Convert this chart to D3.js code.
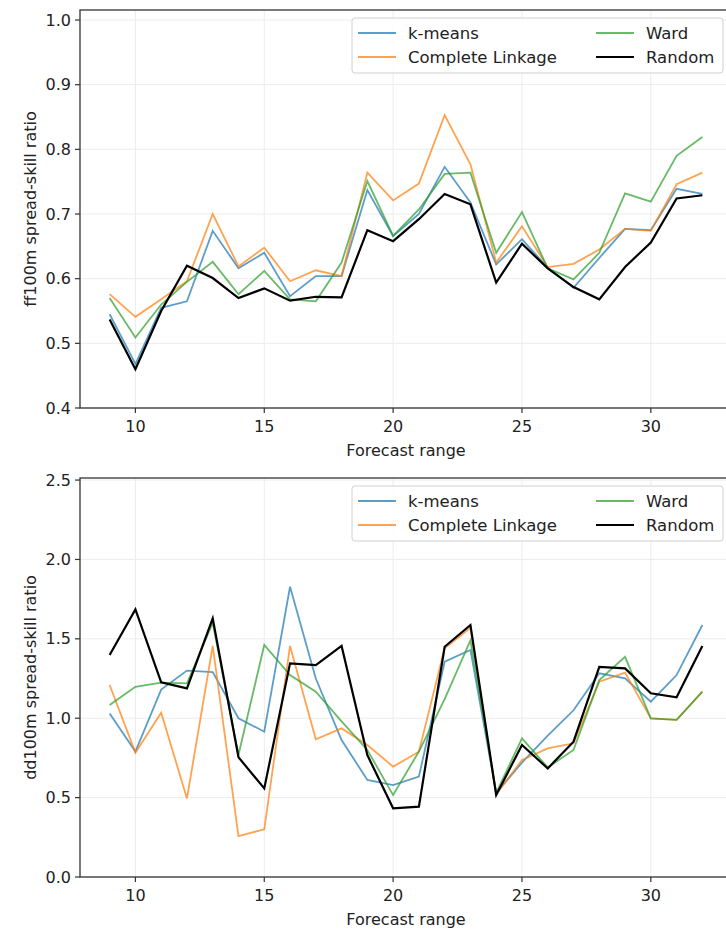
<!DOCTYPE html>
<html lang="en">
<head>
    <meta charset="UTF-8">
    <title>Spread-skill ratio by forecast range</title>
    <script src="https://d3js.org/d3.v7.min.js"></script>
    <style>
        body {
            margin: 0;
            background: #fff;
            font-family: "DejaVu Sans", sans-serif;
        }
        svg {
            display: block;
        }
        .tick-label {
            font-size: 16px;
            fill: #222;
        }
        .axis-title {
            font-size: 16px;
            fill: #222;
        }
        .legend-text {
            font-size: 16.5px;
            fill: #222;
        }
    </style>
</head>
<body>
<svg width="726" height="931"></svg>

<script>
    // forecast range (x)
    const forecastRange = d3.range(9, 33);

    const methods = ["k-means", "Complete Linkage", "Ward", "Random"];
    const colors = ["#1f77b4", "#ff7f0e", "#2ca02c", "#000000"];

    // ff100m spread-skill ratio
    const ffKmeans = [0.545, 0.468, 0.555, 0.565, 0.674, 0.616, 0.640, 0.573, 0.604, 0.604, 0.737, 0.666,
        0.700, 0.773, 0.718, 0.622, 0.661, 0.617, 0.586, 0.632, 0.677, 0.675, 0.739, 0.731];
    const ffComplete = [0.576, 0.541, 0.568, 0.596, 0.700, 0.619, 0.648, 0.596, 0.613, 0.604, 0.764, 0.721,
        0.747, 0.853, 0.777, 0.625, 0.681, 0.618, 0.623, 0.645, 0.677, 0.674, 0.746, 0.764];
    const ffWard = [0.570, 0.509, 0.560, 0.595, 0.626, 0.576, 0.612, 0.568, 0.565, 0.625, 0.751, 0.666,
        0.707, 0.762, 0.764, 0.640, 0.703, 0.616, 0.599, 0.640, 0.732, 0.719, 0.790, 0.819];
    const ffRandom = [0.537, 0.460, 0.550, 0.620, 0.601, 0.570, 0.585, 0.566, 0.572, 0.571, 0.675, 0.658,
        0.692, 0.731, 0.715, 0.594, 0.654, 0.616, 0.587, 0.568, 0.618, 0.656, 0.724, 0.729];

    // dd100m spread-skill ratio
    const ddKmeans = [1.03, 0.79, 1.18, 1.30, 1.29, 1.00, 0.915, 1.828, 1.25, 0.863, 0.611, 0.579,
        0.632, 1.356, 1.43, 0.53, 0.72, 0.89, 1.05, 1.283, 1.251, 1.104, 1.272, 1.587];
    const ddComplete = [1.209, 0.783, 1.035, 0.495, 1.455, 0.258, 0.30, 1.455, 0.867, 0.936, 0.831, 0.695,
        0.789, 1.44, 1.57, 0.52, 0.737, 0.81, 0.842, 1.23, 1.287, 0.999, 0.99, 1.167];
    const ddWard = [1.083, 1.198, 1.224, 1.22, 1.60, 0.77, 1.461, 1.272, 1.167, 0.98, 0.80, 0.516,
        0.79, 1.12, 1.49, 0.53, 0.873, 0.69, 0.80, 1.24, 1.387, 0.999, 0.99, 1.167];
    const ddRandom = [1.398, 1.685, 1.226, 1.188, 1.629, 0.754, 0.558, 1.346, 1.335, 1.455, 0.768, 0.433,
        0.443, 1.45, 1.587, 0.516, 0.831, 0.684, 0.852, 1.324, 1.314, 1.157, 1.132, 1.455];

    const xTicks = [10, 15, 20, 25, 30];
    const ffTicks = [0.4, 0.5, 0.6, 0.7, 0.8, 0.9, 1.0];
    const ddTicks = [0.0, 0.5, 1.0, 1.5, 2.0, 2.5];

    const svg = d3.select("svg");

    const left = 80, right = 732;

    const x = d3.scaleLinear()
        .domain([7.85, 33.15])
        .range([left, right]);

    function drawPanel(cfg) {
        const y = d3.scaleLinear().domain(cfg.yDomain).range([cfg.bottom, cfg.top]);
        const g = svg.append("g");

        // faint grid
        g.selectAll(".gx").data(xTicks).enter().append("line")
            .attr("x1", d => x(d)).attr("x2", d => x(d))
            .attr("y1", cfg.top).attr("y2", cfg.bottom)
            .attr("stroke", "#ececec").attr("stroke-width", 1);
        g.selectAll(".gy").data(cfg.yTicks).enter().append("line")
            .attr("x1", left).attr("x2", right)
            .attr("y1", d => y(d)).attr("y2", d => y(d))
            .attr("stroke", "#ececec").attr("stroke-width", 1);

        // lines
        const line = d3.line()
            .x((d, i) => x(forecastRange[i]))
            .y(d => y(d));

        cfg.series.forEach((s, i) => {
            g.append("path")
                .datum(s)
                .attr("d", line)
                .attr("fill", "none")
                .attr("stroke", colors[i])
                .attr("stroke-opacity", i === 3 ? 1 : 0.72)
                .attr("stroke-width", i === 3 ? 2.2 : 1.8)
                .attr("stroke-linejoin", "miter");
        });

        // frame
        g.append("rect")
            .attr("x", left).attr("y", cfg.top)
            .attr("width", right - left).attr("height", cfg.bottom - cfg.top)
            .attr("fill", "none").attr("stroke", "#333").attr("stroke-width", 1.3);

        // x ticks
        g.selectAll(".xt").data(xTicks).enter().append("line")
            .attr("x1", d => x(d)).attr("x2", d => x(d))
            .attr("y1", cfg.bottom).attr("y2", cfg.bottom + 5)
            .attr("stroke", "#333").attr("stroke-width", 1.2);
        g.selectAll(".xl").data(xTicks).enter().append("text")
            .attr("class", "tick-label")
            .attr("x", d => x(d)).attr("y", cfg.bottom + 24)
            .attr("text-anchor", "middle")
            .text(d => d);

        // y ticks
        g.selectAll(".yt").data(cfg.yTicks).enter().append("line")
            .attr("x1", left - 5).attr("x2", left)
            .attr("y1", d => y(d)).attr("y2", d => y(d))
            .attr("stroke", "#333").attr("stroke-width", 1.2);
        g.selectAll(".yl").data(cfg.yTicks).enter().append("text")
            .attr("class", "tick-label")
            .attr("x", left - 9).attr("y", d => y(d))
            .attr("dy", "0.35em")
            .attr("text-anchor", "end")
            .text(d => d3.format(".1f")(d));

        // titles
        g.append("text")
            .attr("class", "axis-title")
            .attr("x", (left + right) / 2).attr("y", cfg.bottom + 48)
            .attr("text-anchor", "middle")
            .text("Forecast range");
        g.append("text")
            .attr("class", "axis-title")
            .attr("transform", `translate(36, ${(cfg.top + cfg.bottom) / 2}) rotate(-90)`)
            .attr("text-anchor", "middle")
            .text(cfg.yLabel);

        // legend, two columns
        const lg = g.append("g").attr("transform", `translate(352, ${cfg.top + 8})`);
        lg.append("rect")
            .attr("width", 371).attr("height", 55).attr("rx", 3)
            .attr("fill", "#fff").attr("fill-opacity", 0.85)
            .attr("stroke", "#d0d0d0").attr("stroke-width", 1);
        const colX = [6, 244];
        methods.forEach((m, i) => {
            const cx = colX[Math.floor(i / 2)];
            const cy = 15 + (i % 2) * 24;
            lg.append("line")
                .attr("x1", cx).attr("x2", cx + 38)
                .attr("y1", cy).attr("y2", cy)
                .attr("stroke", colors[i])
                .attr("stroke-opacity", i === 3 ? 1 : 0.72)
                .attr("stroke-width", i === 3 ? 2.2 : 1.8);
            lg.append("text")
                .attr("class", "legend-text")
                .attr("x", cx + 50).attr("y", cy)
                .attr("dy", "0.35em")
                .text(m);
        });
    }

    drawPanel({
        top: 10, bottom: 408,
        yDomain: [0.4, 1.0155],
        yTicks: ffTicks,
        yLabel: "ff100m spread-skill ratio",
        series: [ffKmeans, ffComplete, ffWard, ffRandom]
    });

    drawPanel({
        top: 478, bottom: 877,
        yDomain: [0, 2.513],
        yTicks: ddTicks,
        yLabel: "dd100m spread-skill ratio",
        series: [ddKmeans, ddComplete, ddWard, ddRandom]
    });
</script>
</body>
</html>
